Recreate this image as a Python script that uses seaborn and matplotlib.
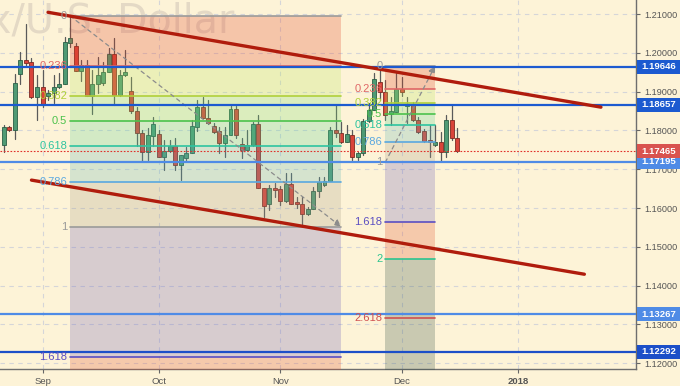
import numpy as np
import pandas as pd
import matplotlib
matplotlib.use("Agg")
import matplotlib.pyplot as plt
import matplotlib.transforms as mtransforms
from matplotlib.patches import Rectangle
import seaborn as sns

# ---------------- data ----------------
first_day = "2017-08-23"
last_day = "2017-12-15"
opens = [1.17624, 1.18086, 1.18011, 1.19454, 1.19815, 1.19763, 1.18860,
         1.19118, 1.18886, 1.18964, 1.19118, 1.19196, 1.20253, 1.20175, 1.19531, 1.19686, 1.18886,
         1.19196, 1.19221, 1.19505, 1.19969, 1.18912, 1.19428, 1.19015, 1.18499, 1.17933, 1.17444,
         1.17856, 1.17908, 1.17316, 1.17470, 1.17599, 1.17110, 1.17290, 1.17418, 1.18086, 1.18603,
         1.18318, 1.18112, 1.17985, 1.17676, 1.17882, 1.18551, 1.17650, 1.17496, 1.17624, 1.18164,
         1.16516, 1.16104, 1.16516, 1.16491, 1.16181, 1.16620, 1.16156, 1.16104, 1.15846, 1.15975,
         1.16439, 1.16594, 1.16697, 1.18011, 1.17933, 1.17702, 1.17882, 1.17316, 1.17418, 1.18241,
         1.18525, 1.19247, 1.18989, 1.18422, 1.18473, 1.19067, 1.18628, 1.18680, 1.18267, 1.17985,
         1.17753, 1.17624, 1.17702, 1.17444, 1.18267, 1.17805]
highs = [1.18138, 1.18112, 1.19454, 1.20021, 1.20742, 1.19866, 1.19428,
         1.19557, 1.19041, 1.19428, 1.19479, 1.20407, 1.20950, 1.20253, 1.19815, 1.19815, 1.19557,
         1.19892, 1.19763, 1.20124, 1.20382, 1.19557, 1.20072, 1.19376, 1.18603, 1.18011, 1.18063,
         1.18344, 1.18011, 1.17753, 1.17753, 1.17805, 1.17367, 1.17573, 1.18267, 1.18783, 1.18860,
         1.18783, 1.18189, 1.18086, 1.18086, 1.18628, 1.18628, 1.17805, 1.18011, 1.18215, 1.18396,
         1.16516, 1.16594, 1.16645, 1.16568, 1.16903, 1.16903, 1.16284, 1.16284, 1.16027, 1.16542,
         1.16800, 1.16800, 1.18086, 1.18654, 1.18215, 1.18138, 1.18011, 1.17444, 1.18293, 1.18706,
         1.19479, 1.19620, 1.19299, 1.18860, 1.19479, 1.19376, 1.18860, 1.18731, 1.18344, 1.18037,
         1.18138, 1.18138, 1.17959, 1.18396, 1.18654, 1.18063]
lows = [1.17444, 1.17985, 1.17779, 1.19196, 1.19686, 1.18834, 1.18267,
        1.18603, 1.18783, 1.18706, 1.19093, 1.19196, 1.20150, 1.19531, 1.19273, 1.18886, 1.18422,
        1.18964, 1.19170, 1.19505, 1.18654, 1.18886, 1.19402, 1.18448, 1.17599, 1.17212, 1.17238,
        1.17599, 1.17316, 1.16981, 1.17444, 1.16981, 1.16723, 1.17238, 1.17418, 1.17985, 1.18318,
        1.18164, 1.17933, 1.17418, 1.17316, 1.17882, 1.17805, 1.17290, 1.17496, 1.17599, 1.16516,
        1.15769, 1.15949, 1.16284, 1.16078, 1.16156, 1.16104, 1.16001, 1.15540, 1.15820, 1.15975,
        1.16284, 1.16568, 1.16697, 1.17830, 1.17676, 1.17702, 1.17238, 1.17238, 1.17367, 1.18215,
        1.18525, 1.18783, 1.18267, 1.18138, 1.18473, 1.18886, 1.18189, 1.18241, 1.17933, 1.17702,
        1.17316, 1.17599, 1.17212, 1.17316, 1.17753, 1.17444]
closes = [1.18086, 1.18011, 1.19221, 1.19815, 1.19737, 1.18860, 1.19118,
          1.18654, 1.18964, 1.19118, 1.19196, 1.20279, 1.20382, 1.19531, 1.19686, 1.18886, 1.19196,
          1.19428, 1.19505, 1.19969, 1.18912, 1.19428, 1.19505, 1.18499, 1.17933, 1.17444, 1.17882,
          1.18164, 1.17316, 1.17470, 1.17599, 1.17110, 1.17367, 1.17418, 1.18112, 1.18603, 1.18318,
          1.18189, 1.17959, 1.17676, 1.17882, 1.18551, 1.17882, 1.17496, 1.17624, 1.18164, 1.16516,
          1.16053, 1.16516, 1.16465, 1.16181, 1.16620, 1.16104, 1.16104, 1.15846, 1.15975, 1.16439,
          1.16671, 1.16697, 1.18011, 1.17933, 1.17702, 1.17908, 1.17316, 1.17418, 1.18241, 1.18525,
          1.19325, 1.18989, 1.18396, 1.18499, 1.19067, 1.18989, 1.18680, 1.18267, 1.17959, 1.17727,
          1.17702, 1.17702, 1.17444, 1.18267, 1.17805, 1.17465]

fib_levels = [0, 0.236, 0.382, 0.5, 0.618, 0.786, 1, 1.618, 2, 2.618, 3.618]
fib_labels = ["0", "0.236", "0.382", "0.5", "0.618", "0.786", "1", "1.618", "2", "2.618", "3.618"]
fib1 = {"start": "2017-09-08", "end": "2017-11-16", "p0": 1.2095, "p1": 1.1552}
fib2 = {"start": "2017-11-28", "end": "2017-12-11", "p0": 1.1966, "p1": 1.1718}

level_prices = [1.19646, 1.18657, 1.17195, 1.13267, 1.12292]
last_price = 1.17465
trend_upper = [("2017-09-04", 1.21044), ("2018-01-22", 1.18600)]
trend_lower = [("2017-08-30", 1.16720), ("2018-01-17", 1.14295)]
month_dates = ["2017-09-01", "2017-10-02", "2017-11-01", "2017-12-01", "2018-01-01"]
month_labels = ["Sep", "Oct", "Nov", "Dec", "2018"]
price_ticks = [1.12, 1.13, 1.14, 1.15, 1.16, 1.17, 1.18, 1.19, 1.20, 1.21]
watermark = "x/U.S. Dollar"

# ---------------- styles ----------------
BG = "#fdf3d7"
UP, DOWN = "#4f9a74", "#d9443a"
UP_EDGE, DOWN_EDGE = "#2b5e46", "#7e2a22"
fib_line_colors = ["#9a9a9a", "#e06666", "#b0d03a", "#4cc24c", "#2ec4a0", "#5aa8e0",
                   "#9a9a9a", "#5b4fc2", "#2ec48f", "#d05050", "#9a9a9a"]
fib_zone_colors = ["#e13f23", "#b9e75f", "#79df73", "#59d393", "#61b7b7", "#a99f87",
                   "#695bbb", "#e14f2b", "#314f43", "#314f43"]
ZONE_ALPHA = 0.25
level_colors = ["#1c5ad0", "#1c5ad0", "#4f8be6", "#4f8be6", "#1c4fc8"]

sns.set_style("white")
plt.rcParams["font.family"] = ["Liberation Sans", "DejaVu Sans"]

W, H = 680, 386
fig = plt.figure(figsize=(W / 100, H / 100), dpi=100, facecolor=BG)
ax = fig.add_axes([0, 17 / H, 636 / W, 369 / H])
ax.set_facecolor(BG)

# trading-day calendar -> bar index
cal = pd.bdate_range(first_day, "2018-03-30")
pos = {d: k for k, d in enumerate(cal)}
def bx(d):
    return pos[pd.Timestamp(d)]

dates = pd.bdate_range(first_day, last_day)
xs = np.array([bx(d) for d in dates], dtype=float)
o, h, l, c = map(np.array, (opens, highs, lows, closes))
up = c >= o

sep_idx = bx("2017-09-01")
ax.set_xlim(sep_idx - 7.69, sep_idx + 107.34)
ax.set_ylim(1.11853, 1.21361)

# grid
ax.set_xticks([bx(d) for d in month_dates])
ax.set_yticks(price_ticks)
ax.grid(True, color="#d5d5d8", lw=0.8, ls=(0, (4, 4)), zorder=0)
ax.set_axisbelow(True)

# watermark
ax.text(-12 / 636, 1 - 1 / 369, watermark, transform=ax.transAxes, ha="left", va="top",
        fontsize=28.5, color="#e4d9c5", family="DejaVu Sans", zorder=1)

# wicks through seaborn
wick_df = pd.DataFrame({
    "x": np.repeat(xs, 2),
    "y": np.column_stack([l, h]).ravel(),
    "bar": np.repeat(np.arange(len(xs)), 2),
})
sns.lineplot(data=wick_df, x="x", y="y", units="bar", estimator=None, sort=False,
             color="#5a5a5a", lw=0.9, ax=ax, legend=False, zorder=2)
ax.set_xlabel("")
ax.set_ylabel("")

# bodies
body_lo = np.minimum(o, c)
body_h = np.maximum(np.abs(c - o), 0.0003)
ax.bar(xs, body_h, bottom=body_lo, width=0.72,
       color=np.where(up, UP, DOWN), edgecolor=np.where(up, UP_EDGE, DOWN_EDGE),
       lw=0.6, zorder=3)

# fibonacci zones
def draw_fib(fib, n_lines):
    x0, x1 = bx(fib["start"]), bx(fib["end"])
    rng = fib["p0"] - fib["p1"]
    prices = [fib["p0"] - lv * rng for lv in fib_levels]
    for k in range(len(fib_levels) - 1):
        ax.fill_between([x0, x1], prices[k + 1], prices[k], color=fib_zone_colors[k],
                        alpha=ZONE_ALPHA, lw=0, zorder=5)
    for k in range(n_lines):
        ax.plot([x0, x1], [prices[k], prices[k]], color=fib_line_colors[k], lw=1.2, zorder=6)
        ax.text(x0 - 0.55, prices[k], fib_labels[k], ha="right", va="center",
                fontsize=8, color=fib_line_colors[k], zorder=9)
    return x0, x1, prices

f1x0, f1x1, f1p = draw_fib(fib1, 8)
f2x0, f2x1, f2p = draw_fib(fib2, 10)

arrow = dict(arrowstyle="-|>,head_length=0.4,head_width=0.2", color="#8c8c8c", lw=0.9,
             linestyle=(0, (3, 3)), shrinkA=0, shrinkB=0)
ax.annotate("", xy=(f1x1, fib1["p1"]), xytext=(f1x0, fib1["p0"]), arrowprops=arrow, zorder=6)
ax.annotate("", xy=(f2x1, fib2["p0"]), xytext=(f2x0, fib2["p1"]), arrowprops=arrow, zorder=6)

# horizontal levels
for p, col in zip(level_prices, level_colors):
    ax.axhline(p, color=col, lw=1.6, zorder=7)
ax.axhline(last_price, color="#e0302a", lw=0.8, ls=(0, (1.5, 1.5)), zorder=7)

# trend lines through seaborn
trend_df = pd.DataFrame({
    "x": [bx(d) for d, _ in trend_upper] + [bx(d) for d, _ in trend_lower],
    "y": [p for _, p in trend_upper] + [p for _, p in trend_lower],
    "line": ["upper", "upper", "lower", "lower"],
})
sns.lineplot(data=trend_df, x="x", y="y", units="line", estimator=None, sort=False,
             color="#b01c0c", lw=2.4, ax=ax, legend=False, zorder=8)
ax.set_xlabel("")
ax.set_ylabel("")

# axes cosmetics
ax.yaxis.tick_right()
ax.set_yticklabels([f"{t:.5f}" for t in price_ticks])
ax.set_xticklabels(month_labels)
ax.tick_params(axis="y", labelsize=6.6, labelcolor="#555555", color="#666666",
               length=3, width=0.8, pad=3, right=True, left=False)
ax.tick_params(axis="x", labelsize=6.8, labelcolor="#555555", color="#666666",
               length=3, width=0.8, pad=3, bottom=True)
for lab in ax.get_xticklabels():
    if lab.get_text() == "2018":
        lab.set_fontweight("bold")
for s in ["left", "top"]:
    ax.spines[s].set_visible(False)
for s in ["right", "bottom"]:
    ax.spines[s].set_color("#6e6e6e")
    ax.spines[s].set_linewidth(1.0)

# price label boxes on right axis
blend = mtransforms.blended_transform_factory(fig.transFigure, ax.transData)
box_h = 14 / 3881
for p, col in list(zip(level_prices, level_colors)) + [(last_price, "#d9534f")]:
    ax.add_patch(Rectangle((637 / W, p - box_h / 2), 43 / W, box_h, transform=blend,
                           facecolor=col, edgecolor="none", clip_on=False, zorder=20))
    ax.text(659 / W, p, f"{p:.5f}", transform=blend, ha="center", va="center",
            fontsize=6.8, fontweight="bold", color="white", clip_on=False, zorder=21)

fig.savefig("out.png", dpi=100, facecolor=BG)
